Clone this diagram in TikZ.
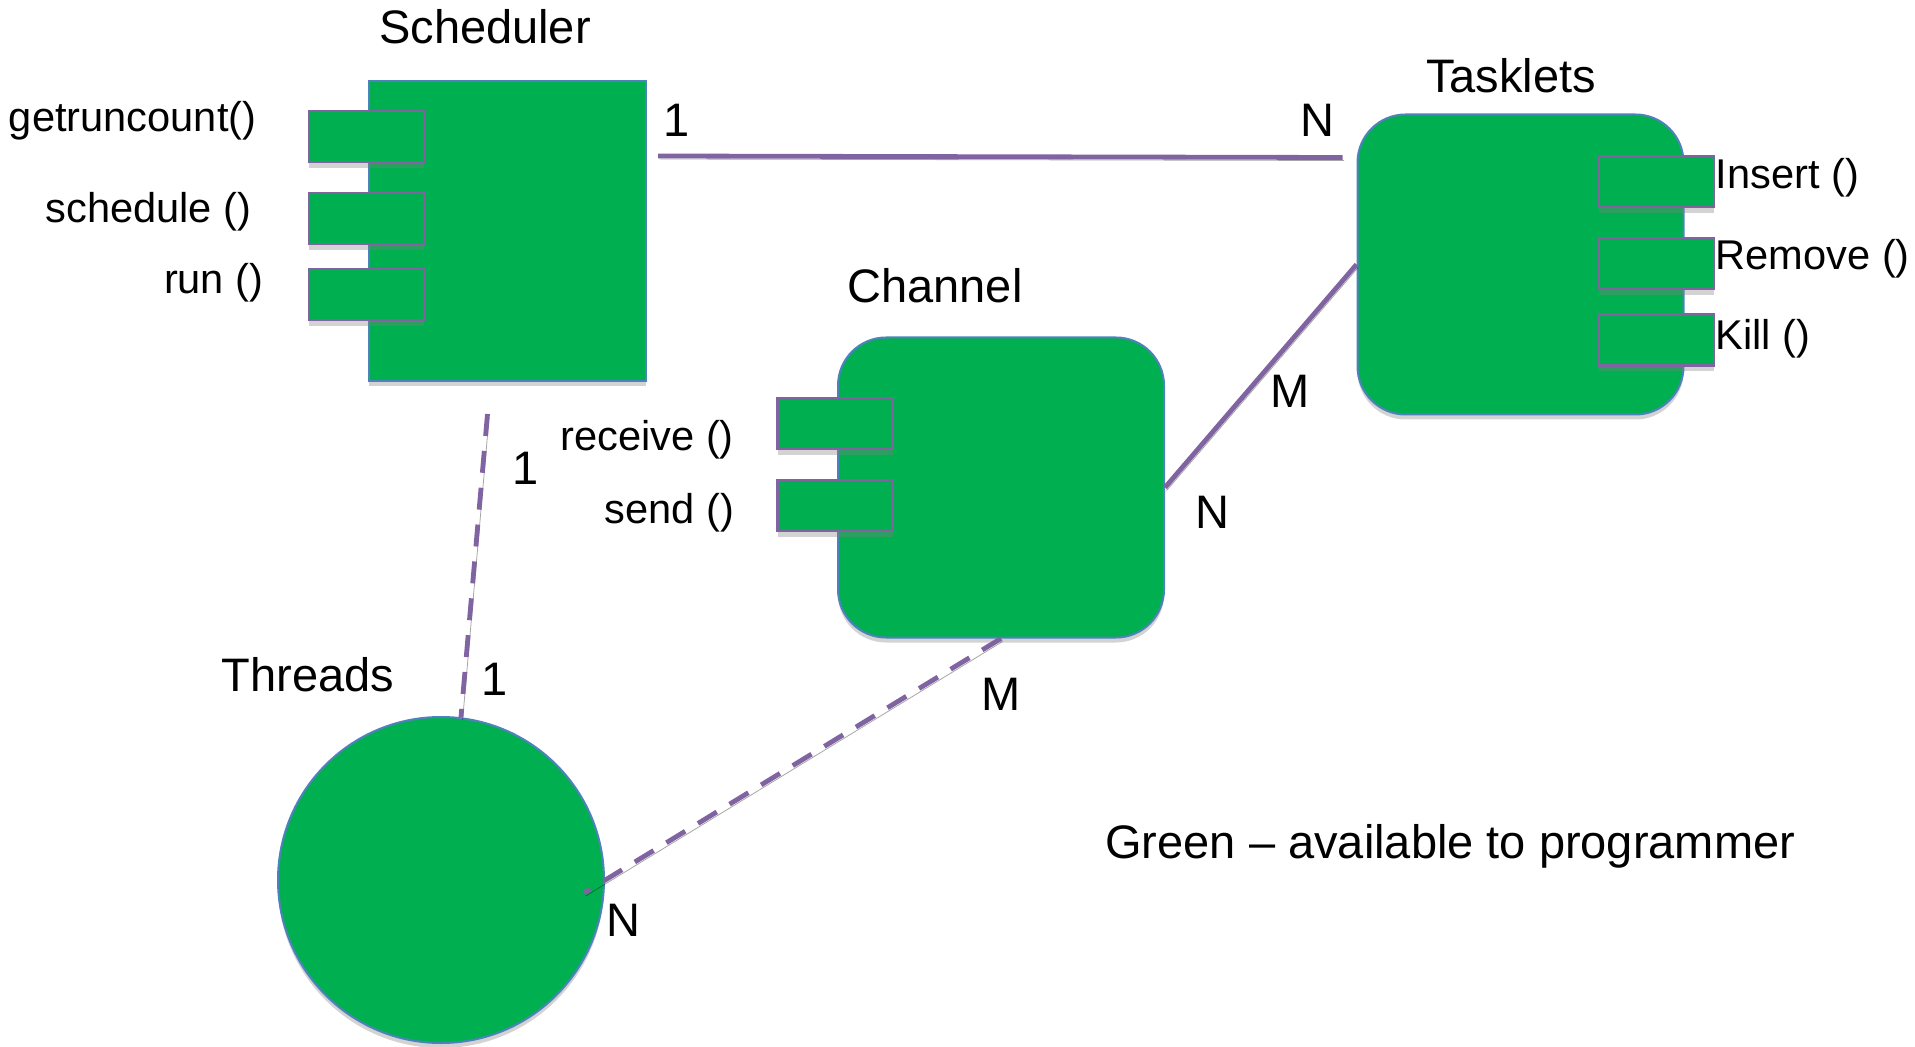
\documentclass[tikz,border=0pt]{standalone}
\usepackage{fontspec}
\setmainfont{Liberation Sans}
\usetikzlibrary{positioning,shadows}
\definecolor{compgreen}{RGB}{0,176,80}
\definecolor{edgeblue}{RGB}{79,129,189}
\definecolor{linkpurple}{RGB}{128,100,162}

\begin{document}
\begin{tikzpicture}[
  x=0.5pt,y=-0.5pt,
  comp/.style={draw=edgeblue,line width=1pt,fill=compgreen,inner sep=0pt,
               drop shadow={shadow xshift=0pt,shadow yshift=-2.5pt,opacity=.35}},
  box/.style={comp,minimum width=138.5pt,minimum height=150pt},
  roundbox/.style={comp,rounded corners=24pt,minimum width=163pt,minimum height=150pt},
  port/.style={draw=linkpurple,line width=1.2pt,fill=compgreen,inner sep=0pt,
               minimum width=57.5pt,minimum height=25.5pt,
               drop shadow={shadow xshift=0pt,shadow yshift=-3pt,opacity=.35}},
  title/.style={font=\fontsize{23.5}{28}\selectfont,inner sep=0pt},
  method/.style={font=\fontsize{20.8}{25}\selectfont,inner sep=0pt},
  card/.style={font=\fontsize{23.5}{28}\selectfont,inner sep=0pt},
  link/.style={draw=linkpurple,line width=2.4pt,
               preaction={draw=black,opacity=.35,transform canvas={shift={(0.8pt,-1.5pt)}}}},
  dashlink/.style={link,dash pattern=on 11pt off 7.5pt}
]
\useasboundingbox (0,0) rectangle (1915,1047);
\node[box] (sched) at (507.5,231) {};
\node[roundbox] (task) at (1520.5,264.5) {};
\node[roundbox] (chan) at (1001,487.5) {};
\node[comp,circle,minimum size=163pt] (thr) at (441,880) {};
\node[port] (sp1) at (366.5,136.5) {};
\node[port] (sp2) at (366.5,218.5) {};
\node[port] (sp3) at (366.5,294.5) {};
\node[port] (tp1) at (1656.5,181.5) {};
\node[port] (tp2) at (1656.5,263.5) {};
\node[port] (tp3) at (1656.5,340) {};
\node[port] (cp1) at (835,423.5) {};
\node[port] (cp2) at (835,505.5) {};
\node[title] (schedname) at (485,27) {Scheduler};
\node[title] (taskname) at (1511,76) {Tasklets};
\node[title] (channame) at (935,286) {Channel};
\node[title] (thrname) at (308,675) {Threads};
\node[method,left=25.5pt of sp1,yshift=7.75pt] (getrun) {getruncount()};
\node[method,left=28pt of sp2,yshift=3.25pt] (schedule) {schedule ()};
\node[method,left=22pt of sp3,yshift=5.75pt] (run) {run ()};
\node[method,right=0pt of tp1,yshift=2pt] (insert) {Insert ()};
\node[method,right=0pt of tp2,yshift=2.5pt] (remove) {Remove ()};
\node[method,right=0pt of tp3,yshift=0.5pt] (kill) {Kill ()};
\node[method,left=21pt of cp1,yshift=-8.25pt] (receive) {receive ()};
\node[method,left=21pt of cp2,yshift=-3.75pt] (send) {send ()};
\draw[link] ([shift={(11,76)}]sched.north east) -- ([shift={(-14,44)}]task.north west);
\draw[link] (task.west) -- (chan.east);
\draw[dashlink] ([shift={(-20,32)}]sched.south) -- (thr.83);
\coordinate (thrin) at ([shift={(-21,13)}]thr.east);
\draw[dashlink] (chan.south) -- (thrin);
\node[card] (c1) at (677,120) {1};
\node[card] (c2) at (1317,120) {N};
\node[card] (c3) at (526,468) {1};
\node[card] (c4) at (495,679) {1};
\node[card] (c5) at (623,920) {N};
\node[card] (c6) at (1001,694) {M};
\node[card] (c7) at (1212,512) {N};
\node[card] (c8) at (1290,391) {M};
\node[title,anchor=west] (legend) at (1105,846) {Green -- available to programmer};
\end{tikzpicture}
\end{document}
